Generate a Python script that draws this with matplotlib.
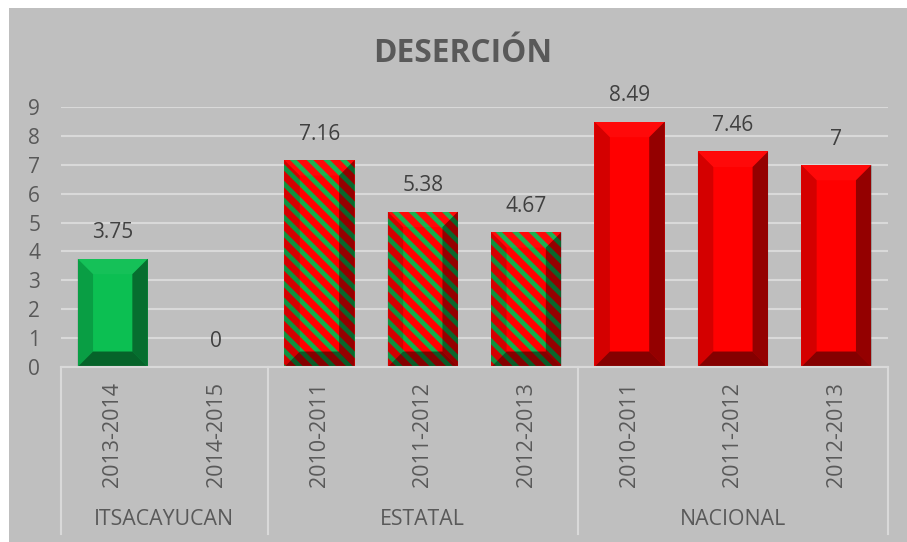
import numpy as np
import matplotlib
matplotlib.use("Agg")
import matplotlib.pyplot as plt
from matplotlib.patches import Polygon, Rectangle

plt.rcParams["font.family"] = ["Open Sans", "DejaVu Sans"]
plt.rcParams["hatch.linewidth"] = 3.4

years = ["2013-2014", "2014-2015",
         "2010-2011", "2011-2012", "2012-2013",
         "2010-2011", "2011-2012", "2012-2013"]
values = [3.75, 0, 7.16, 5.38, 4.67, 8.49, 7.46, 7]
value_labels = ["3.75", "0", "7.16", "5.38", "4.67", "8.49", "7.46", "7"]
groups = ["ITSACAYUCAN", "ESTATAL", "NACIONAL"]
group_sizes = [2, 3, 3]
bar_style = ["green", "green", "hatch", "hatch", "hatch", "red", "red", "red"]

GREEN = "#0cbf52"
RED = "#ff0000"
TEXT = "#595959"

fig = plt.figure(figsize=(9.07, 5.42), dpi=100)
fig.patch.set_facecolor("white")
fig.patches.append(Rectangle((9 / 907, 0), 1, 534 / 542, transform=fig.transFigure,
                             facecolor="#bfbfbf", edgecolor="none", zorder=-10))

ax = fig.add_axes([61 / 907, 1 - 367 / 542, (888 - 61) / 907, 260 / 542])
ax.set_facecolor("none")
x = np.arange(len(values))
w = 0.68

for xi, v, st in zip(x, values, bar_style):
    if st == "green":
        ax.bar(xi, v, w, color=GREEN, linewidth=0, zorder=3)
    elif st == "red":
        ax.bar(xi, v, w, color=RED, linewidth=0, zorder=3)
    else:
        ax.bar(xi, v, w, color=RED, edgecolor="#12b04c", hatch="\\\\", linewidth=0, zorder=3)
    if v <= 0:
        continue
    # bevel overlays
    dx = 0.15
    dy = min(0.536, v / 2)
    x0, x1 = xi - w / 2, xi + w / 2
    shades = [
        ([(x0, 0), (x0 + dx, dy), (x0 + dx, v - dy), (x0, v)], 0.17),
        ([(x1, 0), (x1 - dx, dy), (x1 - dx, v - dy), (x1, v)], 0.42),
        ([(x0, 0), (x1, 0), (x1 - dx, dy), (x0 + dx, dy)], 0.48),
    ]
    for pts, a in shades:
        ax.add_patch(Polygon(pts, closed=True, facecolor="black", alpha=a,
                             linewidth=0, zorder=4))
    ax.add_patch(Polygon([(x0, v), (x1, v), (x1 - dx, v - dy), (x0 + dx, v - dy)],
                         closed=True, facecolor="white", alpha=0.04, linewidth=0, zorder=4))

for xi, v, lab in zip(x, values, value_labels):
    ax.annotate(lab, (xi, v), xytext=(0, 11), textcoords="offset points",
                ha="center", va="bottom", fontsize=15, color="#404040")

ax.set_xlim(-0.5, len(values) - 0.5)
ax.set_ylim(0, 9)
ax.set_yticks(range(0, 10))
ax.yaxis.grid(True, color="#d9d9d9", linewidth=1.5)
ax.set_axisbelow(True)
for s in ax.spines.values():
    s.set_visible(False)
ax.tick_params(axis="y", length=0, pad=15, labelsize=15, labelcolor=TEXT)
ax.set_xticks(x)
ax.set_xticklabels(years, rotation=90)
ax.tick_params(axis="x", length=0, pad=11, labelsize=15.5, labelcolor=TEXT)

# category axis lines and group labels
trans = ax.get_xaxis_transform()
ax.plot([-0.5, len(values) - 0.5], [0, 0], color="#d9d9d9", linewidth=1.5,
        transform=trans, clip_on=False, zorder=5)
edges = np.concatenate([[0], np.cumsum(group_sizes)]) - 0.5
for e in edges:
    ax.plot([e, e], [0, -0.642], color="#d9d9d9", linewidth=1.5,
            transform=trans, clip_on=False)
for g, a, b in zip(groups, edges[:-1], edges[1:]):
    ax.text((a + b) / 2, -0.585, g, transform=trans, ha="center", va="center",
            fontsize=15.3, color=TEXT)

fig.text(463 / 907, 1 - 53 / 542, "DESERCIÓN", ha="center", va="center",
         fontsize=22.8, fontweight="bold", color=TEXT)

fig.savefig("out.png", dpi=100, facecolor=fig.get_facecolor())
